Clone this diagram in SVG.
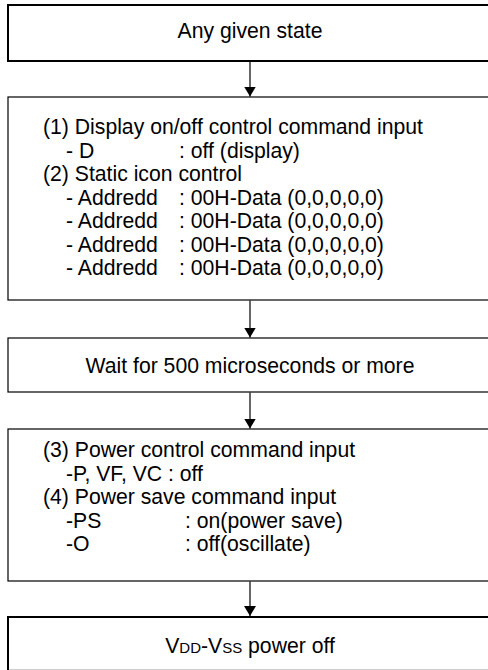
<svg xmlns="http://www.w3.org/2000/svg" width="488" height="670" viewBox="0 0 488 670">
<defs>
<style>
.t{font-family:"Liberation Sans",Arial,sans-serif;font-size:21.2px;fill:#000}
.c{text-anchor:middle}
.sc{font-size:15px}
.thick{fill:#fff;stroke:#000;stroke-width:2}
.thin{fill:#fff;stroke:#000;stroke-width:1.2}
.conn line{stroke:#000;stroke-width:1.2}
</style>
<marker id="ah" viewBox="0 0 10 12" refX="10" refY="6" markerWidth="10" markerHeight="12" markerUnits="userSpaceOnUse" orient="auto">
<path d="M0,0 L10,6 L0,12 Z" fill="#000"/>
</marker>
</defs>
<rect x="0" y="0" width="488" height="670" fill="#fff"/>
<g id="n1">
<rect class="thick" x="8" y="5" width="486" height="56"/>
<text class="t c" x="250" y="38">Any given state</text>
</g>
<g id="n2">
<rect class="thin" x="8" y="97" width="486" height="203"/>
<text class="t" x="43" y="134">(1) Display on/off control command input</text>
<text class="t" x="66" y="157.5">- D</text><text class="t" x="179" y="157.5">: off (display)</text>
<text class="t" x="43" y="181">(2) Static icon control</text>
<text class="t" x="66" y="204.5">- Addredd</text><text class="t" x="179" y="204.5">: 00H-Data (0,0,0,0,0)</text>
<text class="t" x="66" y="228">- Addredd</text><text class="t" x="179" y="228">: 00H-Data (0,0,0,0,0)</text>
<text class="t" x="66" y="251.5">- Addredd</text><text class="t" x="179" y="251.5">: 00H-Data (0,0,0,0,0)</text>
<text class="t" x="66" y="275">- Addredd</text><text class="t" x="179" y="275">: 00H-Data (0,0,0,0,0)</text>
</g>
<g id="n3">
<rect class="thin" x="8" y="338" width="486" height="54"/>
<text class="t c" x="250" y="373">Wait for 500 microseconds or more</text>
</g>
<g id="n4">
<rect class="thin" x="8" y="429" width="486" height="152"/>
<text class="t" x="43" y="457">(3) Power control command input</text>
<text class="t" x="66" y="481">-P, VF, VC : off</text>
<text class="t" x="43" y="504">(4) Power save command input</text>
<text class="t" x="66" y="528">-PS</text><text class="t" x="185" y="528">: on(power save)</text>
<text class="t" x="66" y="551">-O</text><text class="t" x="185" y="551">: off(oscillate)</text>
</g>
<g id="n5">
<rect class="thick" x="8" y="617" width="486" height="53.8"/>
<text class="t c" x="250" y="653">V<tspan class="sc">DD</tspan>-V<tspan class="sc">SS</tspan> power off</text>
</g>
<g class="conn" id="connectors">
<line x1="250" y1="62" x2="250" y2="96.5" marker-end="url(#ah)"/>
<line x1="250" y1="300.5" x2="250" y2="337.5" marker-end="url(#ah)"/>
<line x1="250" y1="392.5" x2="250" y2="428.5" marker-end="url(#ah)"/>
<line x1="250" y1="581.5" x2="250" y2="616" marker-end="url(#ah)"/>
</g>
</svg>
